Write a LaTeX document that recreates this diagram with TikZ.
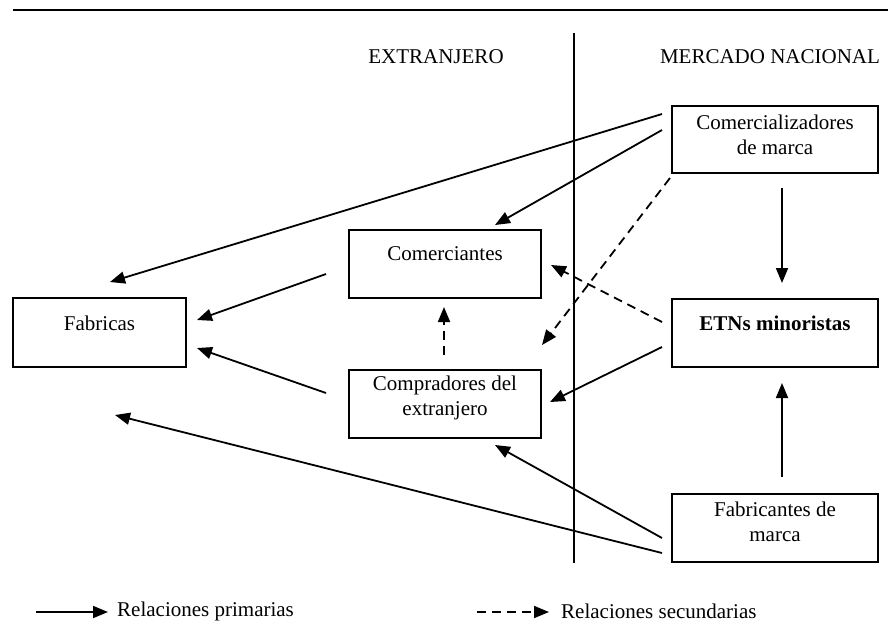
\documentclass[tikz,border=0pt]{standalone}
\usepackage{fontspec}
\setmainfont{Liberation Serif}
\usetikzlibrary{arrows.meta}
\begin{document}
\begin{tikzpicture}[x=1pt,y=-1pt,
  box/.style={draw, line width=1.6pt, inner sep=0pt, outer sep=0pt, anchor=north west},
  txt/.style={font=\fontsize{21}{24.5}\selectfont, align=center, inner sep=0pt},
  btxt/.style={txt, font=\fontsize{21}{24.5}\selectfont\bfseries},
  prim/.style={line width=1.8pt, -{Triangle[length=15pt,width=12pt]}},
  sec/.style={prim, dash pattern=on 9pt off 6pt}]
\useasboundingbox (0,0) rectangle (888,630);
% rules
\coordinate (tl) at (13,10);
\coordinate (tr) at (888,10);
\draw[line width=2pt] (tl) -- (tr);
\coordinate (vt) at (574,33);
\coordinate (vb) at (574,563);
\draw[line width=1.4pt] (vt) -- (vb);
% headers
\node[txt] (hx) at (436,57) {EXTRANJERO};
\node[txt] (hm) at (770,57) {MERCADO NACIONAL};
% boxes
\node[box, minimum width=206, minimum height=67] (cz) at (672,106) {};
\node[box, minimum width=192, minimum height=68] (cm) at (349,230) {};
\node[box, minimum width=192, minimum height=68] (cp) at (349,370) {};
\node[box, minimum width=173, minimum height=69] (fa) at (13,298) {};
\node[box, minimum width=206, minimum height=68] (et) at (672,299) {};
\node[box, minimum width=206, minimum height=68] (fm) at (672,494) {};
% texts
\node[txt] (czt) at (775,135) {Comercializadores\\de marca};
\node[txt] (cmt) at (445,254) {Comerciantes};
\node[txt] (cpt) at (445,398) {Compradores del\\extranjero};
\node[txt] (fat) at (99.5,323) {Fabricas};
\node[btxt] (ett) at (775,323) {ETNs minoristas};
\node[txt] (fmt) at (775,522) {Fabricantes de\\marca};
% connector ends
\coordinate (a1s) at (662,114);  \coordinate (a1e) at (110,282);
\coordinate (a2s) at (662,130);  \coordinate (a2e) at (495,225);
\coordinate (a3s) at (670,178);  \coordinate (a3e) at (542,345);
\coordinate (a4s) at (782,188);  \coordinate (a4e) at (782,283);
\coordinate (a5s) at (662,322);  \coordinate (a5e) at (551,265);
\coordinate (a6s) at (662,347);  \coordinate (a6e) at (550,402);
\coordinate (a7s) at (444,355);  \coordinate (a7e) at (444,307);
\coordinate (a8s) at (326,274);  \coordinate (a8e) at (197,320);
\coordinate (a9s) at (326,393);  \coordinate (a9e) at (197,348);
\coordinate (a10s) at (662,538); \coordinate (a10e) at (495,445);
\coordinate (a11s) at (662,553); \coordinate (a11e) at (115,415);
\coordinate (a12s) at (782,477); \coordinate (a12e) at (782,383);
\draw[prim] (a1s) -- (a1e);
\draw[prim] (a2s) -- (a2e);
\draw[sec] (a3s) -- (a3e);
\draw[prim] (a4s) -- (a4e);
\draw[sec] (a5s) -- (a5e);
\draw[prim] (a6s) -- (a6e);
\draw[sec] (a7s) -- (a7e);
\draw[prim] (a8s) -- (a8e);
\draw[prim] (a9s) -- (a9e);
\draw[prim] (a10s) -- (a10e);
\draw[prim] (a11s) -- (a11e);
\draw[prim] (a12s) -- (a12e);
% legend
\coordinate (l1s) at (36,612); \coordinate (l1e) at (108,612);
\coordinate (l2s) at (477,612); \coordinate (l2e) at (549,612);
\draw[prim] (l1s) -- (l1e);
\draw[sec] (l2s) -- (l2e);
\node[txt, anchor=west] (l1t) at (117,611) {Relaciones primarias};
\node[txt, anchor=west] (l2t) at (561,611) {Relaciones secundarias};
\end{tikzpicture}
\end{document}
